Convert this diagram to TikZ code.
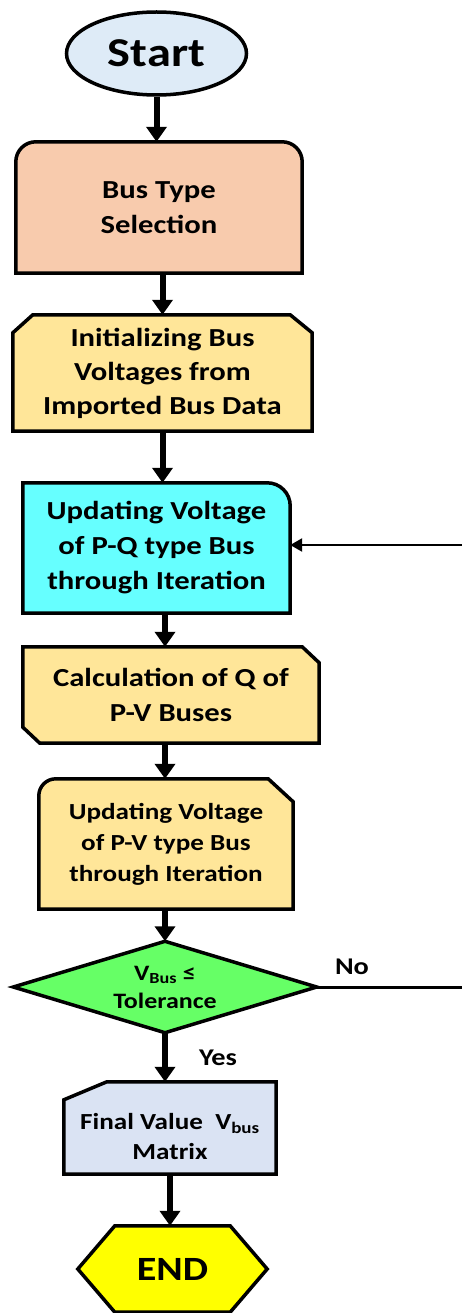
\documentclass[tikz,border=0pt]{standalone}
\usepackage{fontspec}
\setmainfont{Carlito}[FakeStretch=1.18]
\usetikzlibrary{arrows.meta,shapes.geometric,backgrounds}
\definecolor{startblue}{HTML}{DEEBF7}
\definecolor{peach}{HTML}{F8CBAD}
\definecolor{gold}{HTML}{FFE699}
\definecolor{aqua}{HTML}{66FFFF}
\definecolor{lgreen}{HTML}{66FF66}
\definecolor{greyblue}{HTML}{DAE3F3}
\definecolor{yell}{HTML}{FFFF00}

\begin{document}
\begin{tikzpicture}[x=1pt,y=1pt,>={Triangle[length=15pt,width=20pt]}]
		\tikzstyle{box}=[inner sep=0pt,align=center,text=black]
		\tikzstyle{outline}=[draw=black,line width=3.5pt,line join=miter]
		\tikzstyle{flow}=[->,line width=6pt]
		\tikzstyle{back flow}=[-{Triangle[length=12pt,width=13pt]},line width=2.5pt]
		\tikzstyle{lbl}=[inner sep=0pt,font=\fontsize{24}{24}\selectfont\bfseries]
		\useasboundingbox (0,0) rectangle (462,-1313);
		\node[ellipse,outline,fill=startblue,minimum width=180pt,minimum height=83pt,inner sep=0pt,font=\fontsize{41}{41}\selectfont\bfseries] (start) at (156.5,-53.5) {Start};
		\node[box,minimum width=286pt,minimum height=131pt,font=\fontsize{26}{35}\selectfont\bfseries] (bus) at (159,-207.5) {Bus Type\\Selection};
		\node[box,minimum width=299pt,minimum height=116pt,font=\fontsize{26}{34}\selectfont\bfseries] (init) at (162.5,-373) {Initializing Bus\\Voltages from\\Imported Bus Data};
		\node[box,minimum width=267pt,minimum height=130pt,font=\fontsize{26}{35}\selectfont\bfseries] (pq) at (156.5,-548) {Updating Voltage\\of P-Q type Bus\\through Iteration};
		\node[box,minimum width=296pt,minimum height=96pt,font=\fontsize{26}{35}\selectfont\bfseries] (calc) at (171,-695) {Calculation of Q of\\P-V Buses};
		\node[box,minimum width=254pt,minimum height=130pt,font=\fontsize{23}{31}\selectfont\bfseries] (pv) at (166,-844) {Updating Voltage\\of P-V type Bus\\through Iteration};
		\node[box,minimum width=303pt,minimum height=91pt,font=\fontsize{22}{28}\selectfont\bfseries] (dia) at (165,-987) {V\textsubscript{Bus} ≤\\Tolerance};
		\node[box,minimum width=212pt,minimum height=92pt,font=\fontsize{23}{30}\selectfont\bfseries] (fin) at (170,-1128) {\rule{0pt}{34pt}Final Value\ \ V\textsubscript{bus}\\Matrix};
		\node[box,minimum width=189pt,minimum height=86pt,font=\fontsize{34}{34}\selectfont\bfseries] (stop) at (172.5,-1269) {END};
		\node[lbl] (no) at (352,-967) {No};
		\node[lbl] (yes) at (218,-1058) {Yes};
		\coordinate (back) at (462,-545);
		\coordinate (noend) at (462,-987);
		\begin{scope}[on background layer]
		\draw[outline,fill=peach] (bus.south west) -- ([yshift=-20pt]bus.north west) arc[start angle=180,end angle=90,radius=20pt] -- ([xshift=-20pt]bus.north east) arc[start angle=90,end angle=0,radius=20pt] -- (bus.south east) -- cycle;
		\draw[outline,fill=gold] (init.south west) -- ([yshift=-18pt]init.north west) -- ([xshift=20pt]init.north west) -- ([xshift=-22pt]init.north east) -- ([yshift=-18pt]init.north east) -- (init.south east) -- cycle;
		\draw[outline,fill=aqua] (pq.south west) -- (pq.north west) -- ([xshift=-23pt]pq.north east) arc[start angle=90,end angle=0,radius=23pt] -- (pq.south east) -- cycle;
		\draw[outline,fill=gold] ([yshift=16pt]calc.south west) -- (calc.north west) -- ([xshift=-17pt]calc.north east) -- ([yshift=-16pt]calc.north east) -- (calc.south east) -- ([xshift=17pt]calc.south west) -- cycle;
		\draw[outline,fill=gold] (pv.south west) -- ([yshift=-17pt]pv.north west) arc[start angle=180,end angle=90,radius=17pt] -- ([xshift=-25pt]pv.north east) -- ([yshift=-23pt]pv.north east) -- (pv.south east) -- cycle;
		\draw[outline,fill=lgreen] (dia.west) -- (dia.north) -- (dia.east) -- (dia.south) -- cycle;
		\draw[outline,fill=greyblue] ([yshift=-18pt]fin.north west) -- ([xshift=43pt]fin.north west) -- (fin.north east) -- (fin.south east) -- (fin.south west) -- cycle;
		\draw[outline,fill=yell] (stop.west) -- ([xshift=37pt]stop.north west) -- ([xshift=-37pt]stop.north east) -- (stop.east) -- ([xshift=-37pt]stop.south east) -- ([xshift=37pt]stop.south west) -- cycle;
		\end{scope}
		\draw[flow] (start.south) -- (start.south |- bus.north);
		\draw[flow] (init.north |- bus.south) -- (init.north);
		\draw[flow] (init.south) -- (init.south |- pq.north);
		\draw[flow] (pq.south -| dia.north) -- (calc.north -| dia.north);
		\draw[flow] (calc.south -| dia.north) -- (pv.north -| dia.north);
		\draw[flow] (pv.south -| dia.north) -- (dia.north);
		\draw[flow] (dia.south) -- (dia.south |- fin.north);
		\draw[flow] (fin.south) -- (fin.south |- stop.north);
		\draw[back flow] (back) -- (pq.east |- back);
		\draw[line width=3pt] (dia.east) -- (noend);
\end{tikzpicture}
\end{document}
